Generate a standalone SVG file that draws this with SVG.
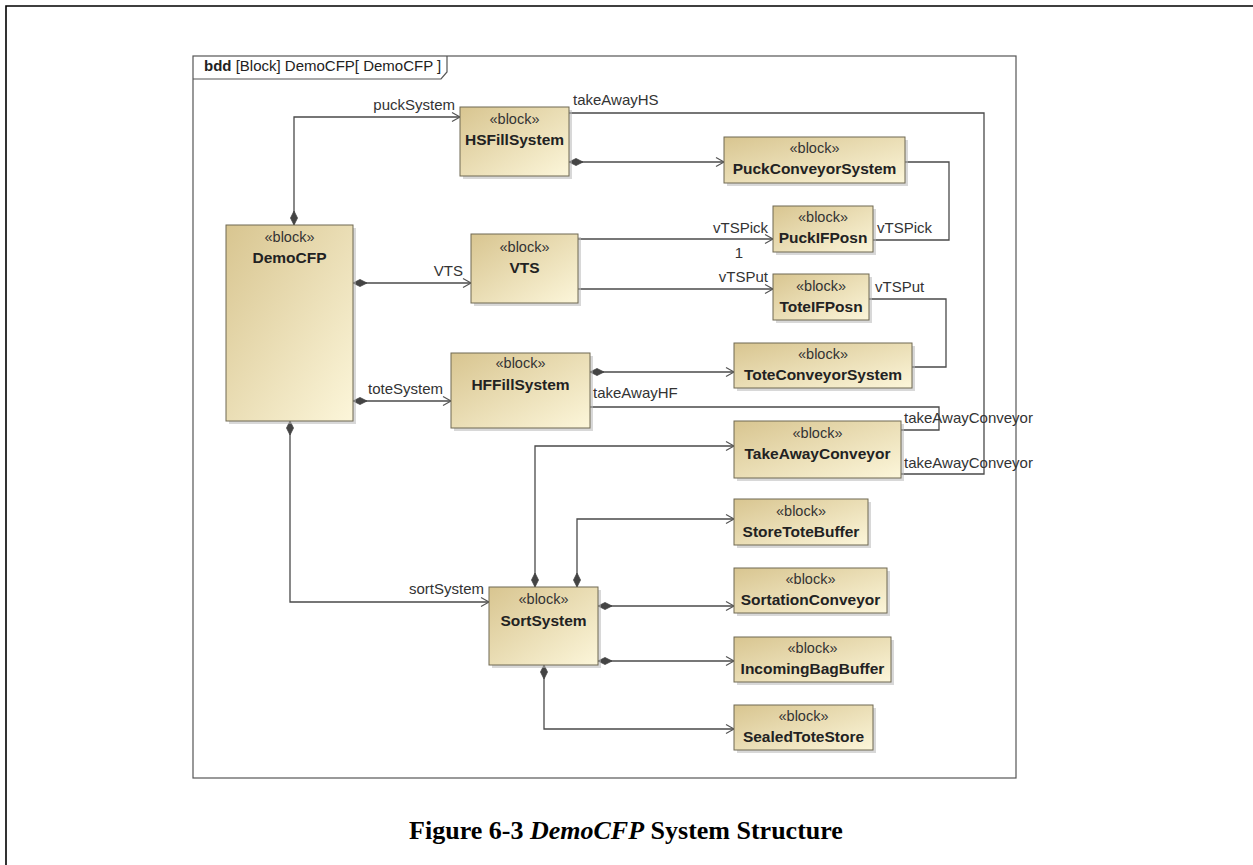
<svg xmlns="http://www.w3.org/2000/svg" width="1253" height="865" viewBox="0 0 1253 865">
<style>
.blk{fill:url(#bg);stroke:#6f6852;stroke-width:1}
.shd{fill:#b8b8b8;opacity:0.55}
.st{font-family:"Liberation Sans",Arial,sans-serif;font-size:14.5px;fill:#333;text-anchor:middle}
.nm{font-family:"Liberation Sans",Arial,sans-serif;font-size:15.5px;font-weight:bold;fill:#222;text-anchor:middle}
.lb{font-family:"Liberation Sans",Arial,sans-serif;font-size:15px;fill:#333}
.cn{fill:none;stroke:#4a4a4a;stroke-width:1.3}
.comp{marker-start:url(#dia);marker-end:url(#arr)}
.cap{font-family:"Liberation Serif","Times New Roman",serif;font-size:26px;font-weight:bold;fill:#000;text-anchor:middle}
</style>
<defs>
<linearGradient id="bg" x1="0" y1="0" x2="1" y2="1">
<stop offset="0" stop-color="#d8c590"/>
<stop offset="1" stop-color="#fcf6da"/>
</linearGradient>
<marker id="dia" markerUnits="userSpaceOnUse" markerWidth="20" markerHeight="12" viewBox="-1 -6 20 12" refX="0" refY="0" orient="auto" overflow="visible">
<path d="M0,0 L7,-3.5 L14,0 L7,3.5 Z" fill="#444" stroke="#444" stroke-width="0.8"/>
</marker>
<marker id="arr" markerUnits="userSpaceOnUse" markerWidth="20" markerHeight="12" viewBox="-12 -6 14 12" refX="0" refY="0" orient="auto" overflow="visible">
<path d="M-8,-4.5 L0,0 L-8,4.5" fill="none" stroke="#555" stroke-width="1.2"/>
</marker>
</defs>
<rect width="1253" height="865" fill="#fff"/>
<path d="M6,865 V6 H1253" fill="none" stroke="#000" stroke-width="1.6"/>
<g id="frame">
<rect x="193" y="56" width="823" height="722" fill="#fff" stroke="#555" stroke-width="1.2"/>
<path d="M193,79 H441 L447,72 V56" fill="none" stroke="#555" stroke-width="1.2"/>
<text x="204" y="71" class="lb" style="font-size:15px;fill:#222"><tspan font-weight="bold">bdd</tspan> [Block] DemoCFP[ DemoCFP ]</text>
</g>
<g id="connectors">
<path class="cn comp" d="M294,225 V117 H460"/>
<path class="cn comp" d="M353,283 H471"/>
<path class="cn comp" d="M353,401 H451"/>
<path class="cn comp" d="M290,421 V602 H489"/>
<path class="cn comp" d="M569,162 H724"/>
<path class="cn" d="M578,239 H773" marker-end="url(#arr)"/>
<path class="cn" d="M578,289 H773" marker-end="url(#arr)"/>
<path class="cn comp" d="M590,372 H734"/>
<path class="cn" d="M569,113 H984 V474 H901"/>
<path class="cn" d="M905,162 H949 V240 H873"/>
<path class="cn" d="M869,299 H946 V367 H912"/>
<path class="cn" d="M590,407 H939 V430 H901"/>
<path class="cn comp" d="M535,587 V446 H734"/>
<path class="cn comp" d="M577,587 V519 H734"/>
<path class="cn comp" d="M598,606 H734"/>
<path class="cn comp" d="M598,661 H734"/>
<path class="cn comp" d="M544,665 V729 H734"/>
<text class="lb" x="455" y="110" text-anchor="end">puckSystem</text>
<text class="lb" x="573" y="105">takeAwayHS</text>
<text class="lb" x="463" y="276" text-anchor="end">VTS</text>
<text class="lb" x="368" y="394">toteSystem</text>
<text class="lb" x="768" y="233" text-anchor="end">vTSPick</text>
<text class="lb" x="739" y="258" text-anchor="middle">1</text>
<text class="lb" x="877" y="233">vTSPick</text>
<text class="lb" x="768" y="282" text-anchor="end">vTSPut</text>
<text class="lb" x="875" y="292">vTSPut</text>
<text class="lb" x="593" y="398">takeAwayHF</text>
<text class="lb" x="904" y="423">takeAwayConveyor</text>
<text class="lb" x="904" y="468">takeAwayConveyor</text>
<text class="lb" x="484" y="594" text-anchor="end">sortSystem</text>
</g>
<g id="DemoCFP"><rect class="shd" x="229" y="228" width="127" height="196"/><rect class="blk" x="226" y="225" width="127" height="196"/><text class="st" x="289.5" y="242">«block»</text><text class="nm" x="289.5" y="263">DemoCFP</text></g>
<g id="HSFillSystem"><rect class="shd" x="463" y="110" width="109" height="69"/><rect class="blk" x="460" y="107" width="109" height="69"/><text class="st" x="514.5" y="124">«block»</text><text class="nm" x="514.5" y="145">HSFillSystem</text></g>
<g id="PuckConveyorSystem"><rect class="shd" x="727" y="140" width="181" height="46"/><rect class="blk" x="724" y="137" width="181" height="46"/><text class="st" x="814.5" y="153">«block»</text><text class="nm" x="814.5" y="174">PuckConveyorSystem</text></g>
<g id="VTS"><rect class="shd" x="474" y="237" width="107" height="69"/><rect class="blk" x="471" y="234" width="107" height="69"/><text class="st" x="524.5" y="252">«block»</text><text class="nm" x="524.5" y="273">VTS</text></g>
<g id="PuckIFPosn"><rect class="shd" x="776" y="209" width="100" height="46"/><rect class="blk" x="773" y="206" width="100" height="46"/><text class="st" x="823" y="222">«block»</text><text class="nm" x="823" y="243">PuckIFPosn</text></g>
<g id="ToteIFPosn"><rect class="shd" x="776" y="277" width="96" height="46"/><rect class="blk" x="773" y="274" width="96" height="46"/><text class="st" x="821" y="291">«block»</text><text class="nm" x="821" y="312">ToteIFPosn</text></g>
<g id="HFFillSystem"><rect class="shd" x="454" y="356" width="139" height="75"/><rect class="blk" x="451" y="353" width="139" height="75"/><text class="st" x="520.5" y="368">«block»</text><text class="nm" x="520.5" y="390">HFFillSystem</text></g>
<g id="ToteConveyorSystem"><rect class="shd" x="737" y="346" width="178" height="45"/><rect class="blk" x="734" y="343" width="178" height="45"/><text class="st" x="823" y="359">«block»</text><text class="nm" x="823" y="380">ToteConveyorSystem</text></g>
<g id="TakeAwayConveyor"><rect class="shd" x="737" y="424" width="167" height="57"/><rect class="blk" x="734" y="421" width="167" height="57"/><text class="st" x="817.5" y="438">«block»</text><text class="nm" x="817.5" y="459">TakeAwayConveyor</text></g>
<g id="StoreToteBuffer"><rect class="shd" x="737" y="502" width="134" height="46"/><rect class="blk" x="734" y="499" width="134" height="46"/><text class="st" x="801" y="516">«block»</text><text class="nm" x="801" y="537">StoreToteBuffer</text></g>
<g id="SortationConveyor"><rect class="shd" x="737" y="571" width="153" height="45"/><rect class="blk" x="734" y="568" width="153" height="45"/><text class="st" x="810.5" y="584">«block»</text><text class="nm" x="810.5" y="605">SortationConveyor</text></g>
<g id="IncomingBagBuffer"><rect class="shd" x="737" y="640" width="157" height="45"/><rect class="blk" x="734" y="637" width="157" height="45"/><text class="st" x="812.5" y="653">«block»</text><text class="nm" x="812.5" y="674">IncomingBagBuffer</text></g>
<g id="SealedToteStore"><rect class="shd" x="737" y="708" width="139" height="45"/><rect class="blk" x="734" y="705" width="139" height="45"/><text class="st" x="803.5" y="721">«block»</text><text class="nm" x="803.5" y="742">SealedToteStore</text></g>
<g id="SortSystem"><rect class="shd" x="492" y="590" width="109" height="78"/><rect class="blk" x="489" y="587" width="109" height="78"/><text class="st" x="543.5" y="604">«block»</text><text class="nm" x="543.5" y="626">SortSystem</text></g>
<text class="cap" x="626" y="839">Figure 6-3 <tspan font-style="italic">DemoCFP</tspan> System Structure</text>
</svg>
